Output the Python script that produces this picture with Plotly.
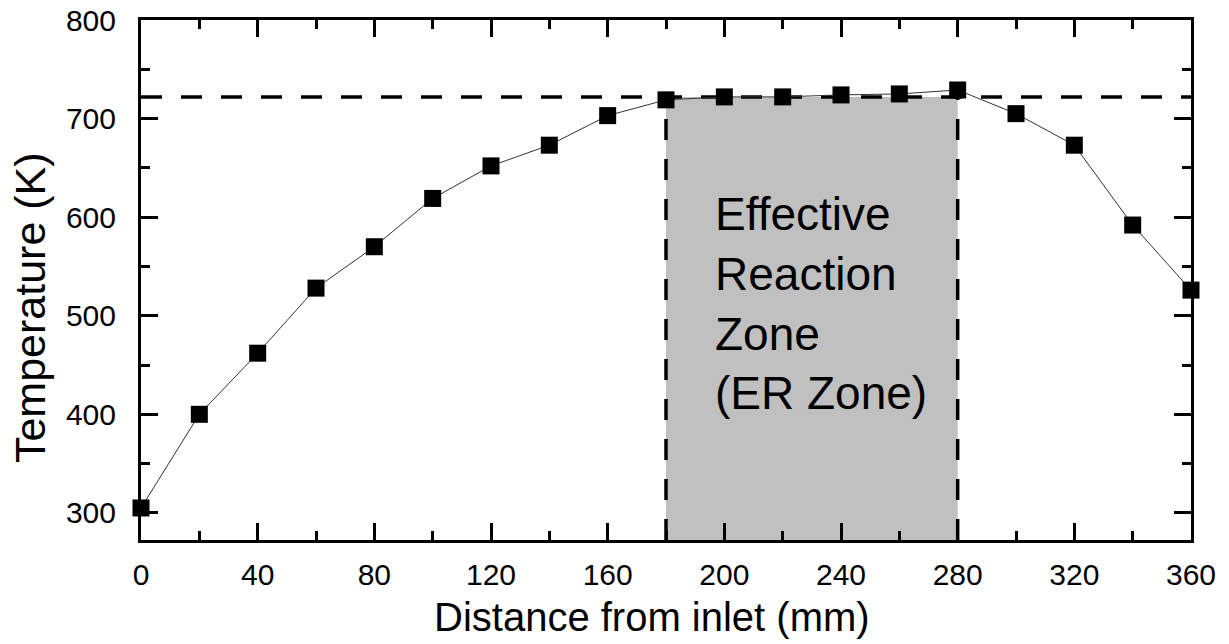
import plotly.graph_objects as go

# Axial temperature profile along the reactor
distance_mm = [0, 20, 40, 60, 80, 100, 120, 140, 160, 180, 200, 220, 240, 260, 280, 300, 320, 340, 360]
temperature_k = [305, 400, 462, 528, 570, 619, 652, 673, 703, 719, 722, 722, 724, 725, 729, 705, 673, 592, 526]

# Effective reaction zone bounds and reference temperature
zone_start, zone_end = 180, 280
zone_temp = 722
zone_label = ["Effective", "Reaction", "Zone", "(ER Zone)"]

x_ticks = [0, 40, 80, 120, 160, 200, 240, 280, 320, 360]
y_ticks = [300, 400, 500, 600, 700, 800]

x_title = "Distance from inlet (mm)"
y_title = "Temperature (K)"

FONT = "Liberation Sans, Arial, sans-serif"
y_min, y_max = 272.5, 800

fig = go.Figure()

fig.add_trace(go.Scatter(
    x=distance_mm, y=temperature_k, mode="lines+markers",
    line=dict(color="#333333", width=1),
    marker=dict(symbol="square", size=17, color="black"),
    showlegend=False, cliponaxis=False,
))

# shaded zone
fig.add_shape(type="rect", xref="x", yref="y",
              x0=zone_start, x1=zone_end, y0=y_min, y1=zone_temp,
              fillcolor="#c0c0c0", line=dict(width=0), layer="below")

dash = dict(color="black", width=3.5, dash="21px,19px")
fig.add_shape(type="line", xref="x", yref="y", x0=0, x1=360, y0=zone_temp, y1=zone_temp,
              line=dash, layer="below")
for xv in (zone_start, zone_end):
    fig.add_shape(type="line", xref="x", yref="y", x0=xv, x1=xv, y0=y_min, y1=zone_temp,
                  line=dash, layer="below")

fig.add_annotation(
    x=zone_start + 16, y=632, xref="x", yref="y",
    text="<br>".join(zone_label), showarrow=False,
    xanchor="left", yanchor="top", align="left",
    font=dict(family=FONT, size=46, color="black"),
)

# axis titles
fig.add_annotation(
    x=-0.1057, y=0.446, xref="paper", yref="paper", text=y_title, textangle=-90,
    showarrow=False, xanchor="center", yanchor="middle",
    font=dict(family=FONT, size=43, color="black"),
)
fig.add_annotation(
    x=0.4867, y=-0.148, xref="paper", yref="paper", text=x_title,
    showarrow=False, xanchor="center", yanchor="middle",
    font=dict(family=FONT, size=40, color="black"),
)

axis_common = dict(
    showgrid=False, zeroline=False, showline=True, linecolor="black", linewidth=3,
    mirror="allticks", ticks="inside", ticklen=17, tickwidth=3, tickcolor="black",
    tickfont=dict(family=FONT, size=30, color="black"), automargin=False,
)

fig.update_xaxes(
    range=[0, 360], tickvals=x_ticks,
    minor=dict(dtick=20, ticks="inside", ticklen=9, tickwidth=3, tickcolor="black"),
    ticklabelstandoff=6,
    **axis_common,
)
fig.update_yaxes(
    range=[y_min, y_max], tickvals=y_ticks,
    minor=dict(dtick=50, tick0=300, ticks="inside", ticklen=9, tickwidth=3, tickcolor="black"),
    ticklabelstandoff=16,
    **axis_common,
)

fig.update_layout(
    width=1229, height=644,
    margin=dict(l=141, r=38, t=20, b=104),
    paper_bgcolor="white", plot_bgcolor="white",
)

fig.write_html("out.html")
